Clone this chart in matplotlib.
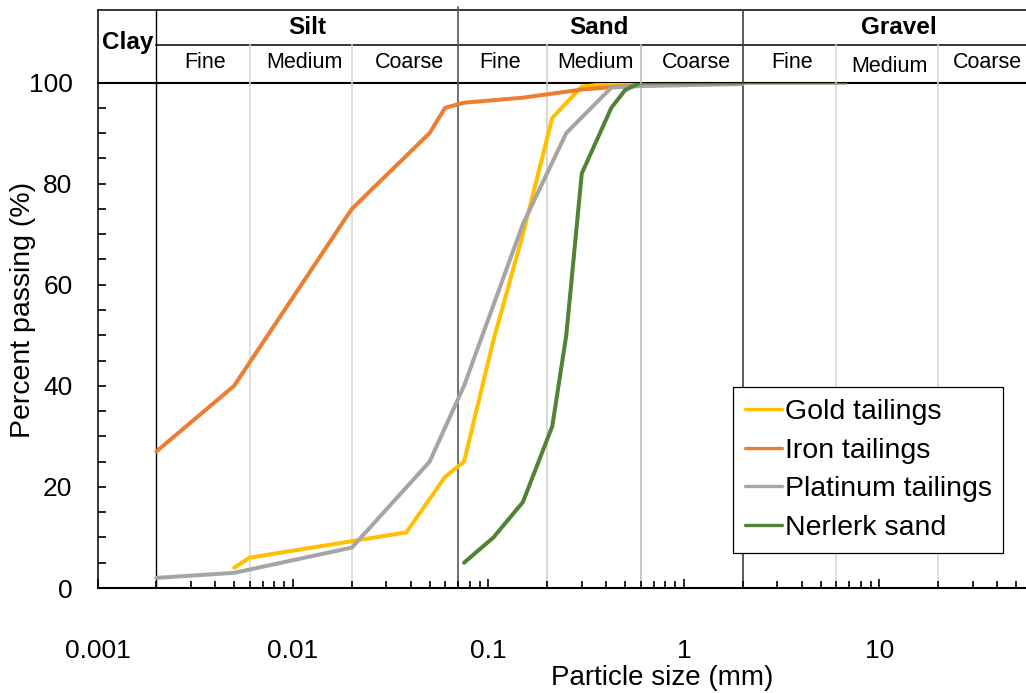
import numpy as np
import matplotlib.pyplot as plt
from matplotlib.ticker import MultipleLocator, FixedLocator, LogLocator, NullFormatter

plt.rcParams['font.family'] = ['Liberation Sans', 'DejaVu Sans']

# grading curves (particle size in mm, percent passing)
gold_x = [0.005, 0.006, 0.038, 0.06, 0.075, 0.106, 0.15, 0.212, 0.3, 0.425, 0.6]
gold_y = [4, 6, 11, 22, 25, 49, 70, 93, 99.2, 99.8, 100]

iron_x = [0.002, 0.005, 0.02, 0.05, 0.06, 0.075, 0.15, 0.3, 0.425, 0.6, 2]
iron_y = [27, 40, 75, 90, 95, 96, 97, 98.6, 99.1, 99.5, 100]

plat_x = [0.002, 0.005, 0.02, 0.05, 0.075, 0.15, 0.25, 0.425, 0.6, 2]
plat_y = [2, 3, 8, 25, 40, 72, 90, 99, 99.3, 99.7]

sand_x = [0.075, 0.106, 0.15, 0.212, 0.25, 0.3, 0.425, 0.5, 0.6, 6.7]
sand_y = [5, 10, 17, 32, 50, 82, 95, 98.5, 100, 100]

series = [
    ('Gold tailings', gold_x, gold_y, '#FFC000'),
    ('Iron tailings', iron_x, iron_y, '#ED7D31'),
    ('Platinum tailings', plat_x, plat_y, '#A5A5A5'),
    ('Nerlerk sand', sand_x, sand_y, '#548235'),
]

# soil classification bands
main_bounds = [0.002, 0.07, 2]
main_colors = ['black', '#595959', '#404040']
sub_bounds = [0.006, 0.02, 0.2, 0.6, 6, 20]
sub_colors = ['#D9D9D9', '#D9D9D9', '#D0D0D0', '#BFBFBF', '#D9D9D9', '#D9D9D9']

groups = ['Clay', 'Silt', 'Sand', 'Gravel']
group_x = [0.00142, 0.0118, 0.367, 12.6]
subs = ['Fine', 'Medium', 'Coarse'] * 3
sub_x = [0.00355, 0.0114, 0.0395, 0.1145, 0.3545, 1.16, 3.57, 11.2, 35.7]

xticks = [0.001, 0.01, 0.1, 1, 10]
xtick_labels = ['0.001', '0.01', '0.1', '1', '10']

W, H = 1026, 693
fig = plt.figure(figsize=(W / 100, H / 100), dpi=100)

x0, x1 = 97.5, 1031.6
ybot, ytop, yhead = 588, 82.5, 9.5
ax = fig.add_axes([x0 / W, 1 - ybot / H, (x1 - x0) / W, (ybot - ytop) / H])
hx = fig.add_axes([x0 / W, 1 - ytop / H, (x1 - x0) / W, (ytop - yhead) / H], sharex=ax)

ax.set_xscale('log')
ax.set_xlim(0.001, 60)
ax.set_ylim(0, 100)

for xb, c in zip(main_bounds, main_colors):
    ax.axvline(xb, color=c, lw=1.0 if c == 'black' else 1.2, zorder=1)
for xb, c in zip(sub_bounds, sub_colors):
    ax.axvline(xb, color=c, lw=1.2, zorder=1)

for name, xs, ys, c in series:
    ax.plot(xs, ys, color=c, lw=2.9, label=name, solid_capstyle='round',
            solid_joinstyle='round', zorder=3)

ax.xaxis.set_major_locator(FixedLocator(xticks))
ax.set_xticklabels(xtick_labels)
ax.xaxis.set_minor_locator(LogLocator(base=10, subs=np.arange(2, 10)))
ax.xaxis.set_minor_formatter(NullFormatter())
ax.yaxis.set_major_locator(MultipleLocator(20))
ax.yaxis.set_minor_locator(MultipleLocator(5))

ax.tick_params(axis='x', which='major', direction='in', length=6.5, width=1.2,
               labelsize=19, pad=37)
ax.tick_params(axis='x', which='minor', direction='in', length=5, width=1.2)
ax.tick_params(axis='y', which='both', direction='in', length=6, width=1.2,
               labelsize=19, pad=18)

ax.spines['right'].set_visible(False)
ax.spines['left'].set_linewidth(1.1)
ax.spines['bottom'].set_linewidth(1.5)
ax.spines['top'].set_linewidth(1.5)

leg = ax.legend(loc='upper left', bbox_to_anchor=(0.6807, 0.397), borderaxespad=0,
                fontsize=20.5, fancybox=False, edgecolor='black', framealpha=1,
                handlelength=1.3, handletextpad=0.1, labelspacing=0.45,
                borderpad=0.4)
leg.get_frame().set_linewidth(0.9)
for h in leg.get_lines():
    h.set_linewidth(2.4)

# header table with the size classes
hx.set_ylim(0, 73)
hx.axis('off')
hx.plot([0.001, 60], [73, 73], color='black', lw=1.1, clip_on=False)
hx.plot([0.002, 60], [37.5, 37.5], color='black', lw=1.1, clip_on=False)
hx.plot([0.001, 0.001], [0, 73], color='black', lw=1.1, clip_on=False)
for xb, c in zip(main_bounds, main_colors):
    top = 76 if xb == 0.07 else 73
    hx.plot([xb, xb], [0, top], color=c, lw=1.0 if c == 'black' else 1.2, clip_on=False)
for xb, c in zip(sub_bounds, sub_colors):
    hx.plot([xb, xb], [0, 37.5], color=c, lw=1.2, clip_on=False)

for g, gx in zip(groups, group_x):
    gy = 40.5 if g == 'Clay' else 54.5
    hx.text(gx, gy, g, ha='center', va='center', fontsize=17.5, fontweight='bold')
for i, (s, sx) in enumerate(zip(subs, sub_x)):
    sy = 15.5 if i == 7 else 19.5
    hx.text(sx, sy, s, ha='center', va='center', fontsize=15.5)

fig.text(662 / W, 1 - 678 / H, 'Particle size (mm)', ha='center', va='center', fontsize=20)
fig.text(23 / W, 1 - 310 / H, 'Percent passing (%)', rotation=90, ha='center',
         va='center', fontsize=20.5)

fig.savefig('out.png', dpi=100)
